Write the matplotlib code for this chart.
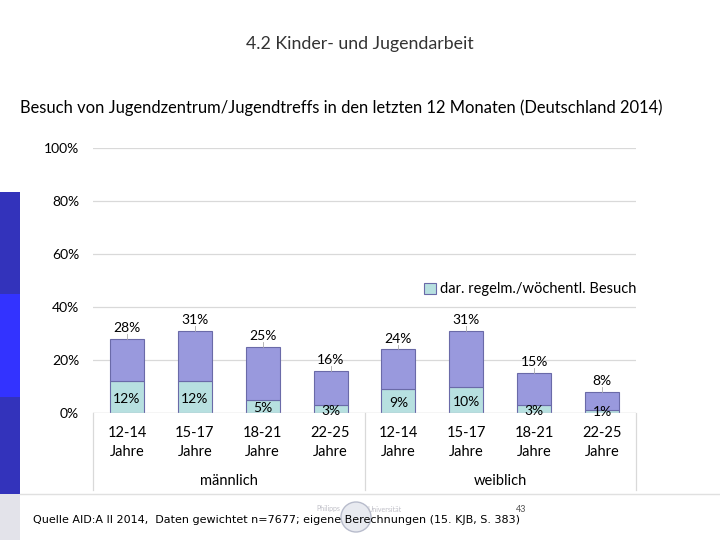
import matplotlib.pyplot as plt
from matplotlib.patches import Rectangle, Ellipse
from matplotlib.lines import Line2D

plt.rcParams['font.family'] = ['Lato', 'DejaVu Sans']

ages = ['12-14\nJahre', '15-17\nJahre', '18-21\nJahre', '22-25\nJahre'] * 2
groups = ['männlich', 'weiblich']
total = [28, 31, 25, 16, 24, 31, 15, 8]
regular = [12, 12, 5, 3, 9, 10, 3, 1]
yticks = [0, 20, 40, 60, 80, 100]

c_reg = '#b7e0e0'
c_rest = '#9999dd'
c_edge = '#6a6aa8'
c_grid = '#d9d9d9'

fig = plt.figure(figsize=(7.2, 5.4), dpi=100)

# slide decoration
fig.add_artist(Rectangle((0, (540 - 294) / 540), 20 / 720, 102 / 540, transform=fig.transFigure, color='#3333bb', lw=0))
fig.add_artist(Rectangle((0, (540 - 397) / 540), 20 / 720, 103 / 540, transform=fig.transFigure, color='#3333ff', lw=0))
fig.add_artist(Rectangle((0, (540 - 494) / 540), 20 / 720, 97 / 540, transform=fig.transFigure, color='#3333bb', lw=0))
fig.add_artist(Rectangle((0, 0), 20 / 720, 46 / 540, transform=fig.transFigure, color='#e3e3ea', lw=0))
fig.add_artist(Line2D([20 / 720, 1], [46 / 540, 46 / 540], transform=fig.transFigure, color='#e0e0e0', lw=1))

# faint university logo
fig.add_artist(Ellipse((356 / 720, 1 - 517 / 540), 30 / 720, 30 / 540, transform=fig.transFigure,
                       facecolor='#e8eaf0', edgecolor='#b8bccc', lw=1, zorder=0))
fig.text(328 / 720, 1 - 509 / 540, 'Philipps', ha='center', va='center', fontsize=5, color='#c0c0c8')
fig.text(385 / 720, 1 - 509 / 540, 'Universität', ha='center', va='center', fontsize=5, color='#c0c0c8')

fig.text(0.5, 1 - 44 / 540, '4.2 Kinder- und Jugendarbeit', ha='center', va='center', fontsize=12.8, color='#333333')
fig.text(20 / 720, 1 - 108 / 540,
         'Besuch von Jugendzentrum/Jugendtreffs in den letzten 12 Monaten (Deutschland 2014)',
         ha='left', va='center', fontsize=11.9, color='black')
fig.text(33 / 720, 1 - 520 / 540,
         'Quelle AID:A II 2014,  Daten gewichtet n=7677; eigene Berechnungen (15. KJB, S. 383)',
         ha='left', va='center', fontsize=8.0, color='black',
         family=['DejaVu Sans Condensed', 'Liberation Sans Narrow', 'DejaVu Sans'])
fig.text(521 / 720, 1 - 510 / 540, '43', ha='center', va='center', fontsize=6.5, color='#555555')

ax = fig.add_axes([93 / 720, (540 - 413) / 540, 543 / 720, 265 / 540])
x = list(range(len(total)))
rest = [t - r for t, r in zip(total, regular)]
ax.bar(x, regular, width=0.5, color=c_reg, edgecolor=c_edge, lw=0.8, zorder=3,
       label='dar. regelm./wöchentl. Besuch')
ax.bar(x, rest, width=0.5, bottom=regular, color=c_rest, edgecolor=c_edge, lw=0.8, zorder=3)

ax.set_xlim(-0.5, 7.5)
ax.set_ylim(0, 100)
ax.set_yticks(yticks)
ax.set_yticklabels(['%d%%' % v for v in yticks], fontsize=10)
ax.tick_params(axis='y', length=0, pad=10)
ax.set_xticks([])
ax.grid(axis='y', color=c_grid, lw=0.9, zorder=0)
for s in ax.spines.values():
    s.set_visible(False)
ax.axhline(0, color=c_grid, lw=0.9, zorder=4)

# data labels
for i in x:
    ax.text(i, total[i] + 1.8, '%d%%' % total[i], ha='center', va='bottom', fontsize=10, zorder=5)
    ax.plot([i, i], [total[i], total[i] + 1.8], color='#aaaaaa', lw=0.6, zorder=5)
    ax.text(i, max(regular[i] / 2, 1.2) - 0.7, '%d%%' % regular[i], ha='center', va='center', fontsize=10, zorder=5)

# category axis
for xv in [-0.5, 3.5, 7.5]:
    ax.plot([xv, xv], [0, -29], color=c_grid, lw=0.9, clip_on=False)
for i in x:
    ax.text(i, -11.3, ages[i], ha='center', va='center', fontsize=10.5, linespacing=1.45)
for g, name in enumerate(groups):
    ax.text(1.5 + 4 * g, -25.5, name, ha='center', va='center', fontsize=10.5)

ax.legend(loc='upper right', bbox_to_anchor=(1.012, 0.515), frameon=False, fontsize=10.5,
          handlelength=0.8, handleheight=0.8, handletextpad=0.3, borderaxespad=0)

fig.savefig('out.png', dpi=100)
